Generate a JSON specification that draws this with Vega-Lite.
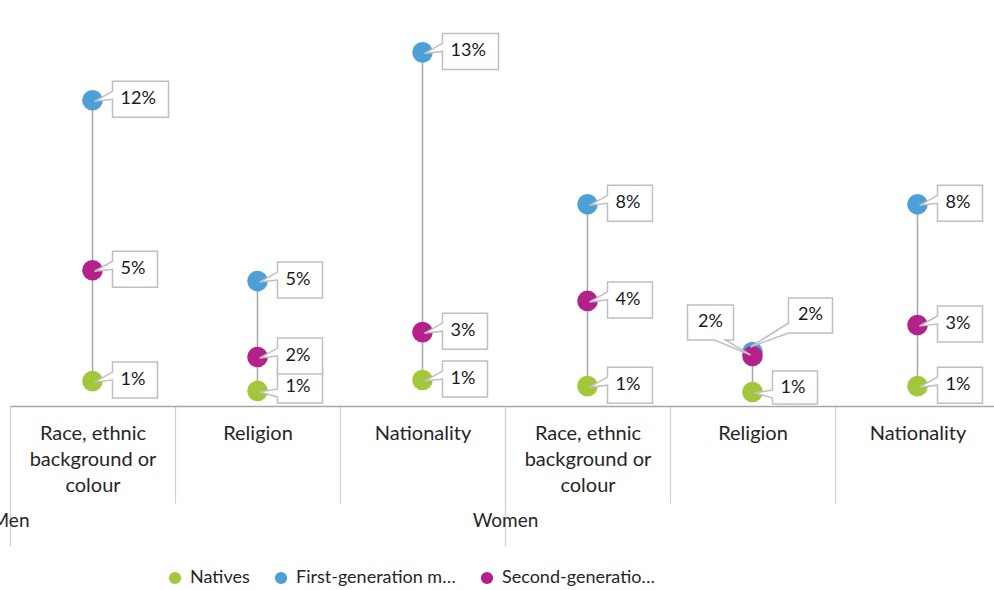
{
  "$schema": "https://vega.github.io/schema/vega-lite/v6.json",
  "width": 990,
  "height": 397,
  "autosize": {"type": "none"},
  "padding": {"left": 10, "top": 9, "right": 0, "bottom": 184},
  "config": {"view": {"stroke": null}, "font": "Lato"},
  "data": {
    "values": [
      {"group": "Men", "category": "Race, ethnic background or colour", "series": "Natives", "value": 0.0094},
      {"group": "Men", "category": "Race, ethnic background or colour", "series": "First-generation migrants", "value": 0.1155},
      {"group": "Men", "category": "Race, ethnic background or colour", "series": "Second-generation migrants", "value": 0.0513},
      {"group": "Men", "category": "Religion", "series": "Natives", "value": 0.0057},
      {"group": "Men", "category": "Religion", "series": "First-generation migrants", "value": 0.0472},
      {"group": "Men", "category": "Religion", "series": "Second-generation migrants", "value": 0.0185},
      {"group": "Men", "category": "Nationality", "series": "Natives", "value": 0.0098},
      {"group": "Men", "category": "Nationality", "series": "First-generation migrants", "value": 0.1336},
      {"group": "Men", "category": "Nationality", "series": "Second-generation migrants", "value": 0.0279},
      {"group": "Women", "category": "Race, ethnic background or colour", "series": "Natives", "value": 0.0075},
      {"group": "Women", "category": "Race, ethnic background or colour", "series": "First-generation migrants", "value": 0.0762},
      {"group": "Women", "category": "Race, ethnic background or colour", "series": "Second-generation migrants", "value": 0.0397},
      {"group": "Women", "category": "Religion", "series": "Natives", "value": 0.0053},
      {"group": "Women", "category": "Religion", "series": "First-generation migrants", "value": 0.0204},
      {"group": "Women", "category": "Religion", "series": "Second-generation migrants", "value": 0.0189},
      {"group": "Women", "category": "Nationality", "series": "Natives", "value": 0.0075},
      {"group": "Women", "category": "Nationality", "series": "First-generation migrants", "value": 0.0762},
      {"group": "Women", "category": "Nationality", "series": "Second-generation migrants", "value": 0.0306}
    ]
  },
  "transform": [{"calculate": "datum.group + '|' + datum.category", "as": "key"}],
  "layer": [
    {
      "mark": {"type": "rule", "color": "#a6a6a6", "strokeWidth": 1.5},
      "encoding": {
        "x": {
          "field": "key", "type": "nominal", "title": null,
          "scale": {"type": "band", "paddingInner": 0, "paddingOuter": 0,
            "domain": ["Men|Race, ethnic background or colour", "Men|Religion", "Men|Nationality", "Women|Race, ethnic background or colour", "Women|Religion", "Women|Nationality"]},
          "axis": {
            "orient": "bottom", "title": null,
            "domain": true, "domainColor": "#a6a6a6", "domainWidth": 1.5,
            "ticks": true, "tickBand": "extent", "tickSize": 97, "tickColor": "#cfcfcf", "tickWidth": 1.2,
            "grid": false, "labelAngle": 0, "labelAlign": "center", "labelBaseline": "top",
            "labelPadding": -80, "labelLineHeight": 26, "labelFont": "Lato", "labelFontSize": 20,
            "labelColor": "#262626",
            "labelExpr": "isValid(datum.value) ? (indexof(datum.value, 'Race') >= 0 ? ['Race, ethnic', 'background or', 'colour'] : split(datum.value, '|')[1]) : ''"
          }
        },
        "y": {"aggregate": "min", "field": "value", "type": "quantitative", "title": null,
          "scale": {"domain": [0, 0.15], "nice": false, "zero": true},
          "axis": {"title": null, "labels": false, "ticks": false, "domain": false, "grid": true,
            "tickCount": 3, "gridColor": "#c8c8c8", "gridWidth": 1.2}},
        "y2": {"aggregate": "max", "field": "value"}
      }
    },
    {
      "mark": {"type": "circle", "size": 425, "opacity": 1},
      "encoding": {
        "x": {"field": "key", "type": "nominal", "title": null,
          "axis": {
            "orient": "bottom", "title": null, "domain": false, "grid": false,
            "values": ["Men|Race, ethnic background or colour", "Women|Race, ethnic background or colour"],
            "ticks": true, "tickOffset": -82.5, "tickSize": 140, "tickColor": "#cfcfcf", "tickWidth": 1.2,
            "labelAngle": 0, "labelAlign": "center", "labelBaseline": "top", "labelPadding": -35, "labelDx": 247.5,
            "labelExpr": "isValid(datum.value) ? split(datum.value, '|')[0] : ''",
            "labelFont": "Lato", "labelFontSize": 19, "labelColor": "#262626"
          }},
        "y": {"field": "value", "type": "quantitative", "title": null, "axis": null},
        "color": {
          "field": "series", "type": "nominal",
          "scale": {"domain": ["Natives", "First-generation migrants", "Second-generation migrants"],
            "range": ["#a2c73b", "#4d9fd8", "#b4218a"]},
          "legend": {
            "orient": "none", "legendX": 156, "legendY": 560, "direction": "horizontal",
            "title": null, "symbolType": "circle", "symbolSize": 150, "symbolStrokeWidth": 0,
            "labelFont": "Lato", "labelFontSize": 18, "labelColor": "#262626",
            "labelOffset": 6, "columnPadding": 22
          }
        }
      }
    },
    {
      "mark": {"type": "point", "filled": true, "fill": "white", "stroke": "#bfbfbf", "strokeWidth": 1.5, "opacity": 1, "size": 4},
      "encoding": {
        "x": {"field": "key", "type": "nominal", "title": null, "axis": null},
        "y": {"field": "value", "type": "quantitative", "title": null, "axis": null},
        "shape": {
          "condition": [
            {"test": "datum.group == 'Women' && datum.category == 'Religion' && datum.series == 'Second-generation migrants'", "value": "M-65,-51H-19V-16H-27L-2,-1L-38,-16H-65Z"},
            {"test": "datum.group == 'Women' && datum.category == 'Religion' && datum.series == 'First-generation migrants'", "value": "M36,-54H80V-19H36L-2,-5L36,-29Z"},
            {"test": "datum.value < 0.007", "value": "M20,-21H65V12H20V6L2,1L20,-2Z"},
            {"test": "datum.value >= 0.095", "value": "M20,-19H76V17H20V-1L2,1L20,-9Z"}
          ],
          "value": "M20,-19H65V17H20V-1L2,1L20,-9Z"
        }
      }
    },
    {
      "transform": [{"filter": "!(datum.group == 'Women' && datum.category == 'Religion' && datum.series != 'Natives') && datum.value >= 0.007"}],
      "mark": {"type": "text", "align": "left", "baseline": "middle", "dx": 28, "dy": -1, "font": "Lato", "fontSize": 18, "color": "#1a1a1a"},
      "encoding": {
        "x": {"field": "key", "type": "nominal", "title": null, "axis": null},
        "y": {"field": "value", "type": "quantitative", "title": null, "axis": null},
        "text": {"field": "value", "type": "quantitative", "format": ".0%"}
      }
    },
    {
      "transform": [{"filter": "datum.value < 0.007"}],
      "mark": {"type": "text", "align": "left", "baseline": "middle", "dx": 28, "dy": -4, "font": "Lato", "fontSize": 18, "color": "#1a1a1a"},
      "encoding": {
        "x": {"field": "key", "type": "nominal", "title": null, "axis": null},
        "y": {"field": "value", "type": "quantitative", "title": null, "axis": null},
        "text": {"field": "value", "type": "quantitative", "format": ".0%"}
      }
    },
    {
      "transform": [{"filter": "datum.group == 'Women' && datum.category == 'Religion' && datum.series == 'Second-generation migrants'"}],
      "mark": {"type": "text", "align": "center", "baseline": "middle", "dx": -42, "dy": -34, "font": "Lato", "fontSize": 18, "color": "#1a1a1a"},
      "encoding": {
        "x": {"field": "key", "type": "nominal", "title": null, "axis": null},
        "y": {"field": "value", "type": "quantitative", "title": null, "axis": null},
        "text": {"field": "value", "type": "quantitative", "format": ".0%"}
      }
    },
    {
      "transform": [{"filter": "datum.group == 'Women' && datum.category == 'Religion' && datum.series == 'First-generation migrants'"}],
      "mark": {"type": "text", "align": "center", "baseline": "middle", "dx": 58, "dy": -37, "font": "Lato", "fontSize": 18, "color": "#1a1a1a"},
      "encoding": {
        "x": {"field": "key", "type": "nominal", "title": null, "axis": null},
        "y": {"field": "value", "type": "quantitative", "title": null, "axis": null},
        "text": {"field": "value", "type": "quantitative", "format": ".0%"}
      }
    }
  ],
  "resolve": {"axis": {"x": "independent"}}
}
